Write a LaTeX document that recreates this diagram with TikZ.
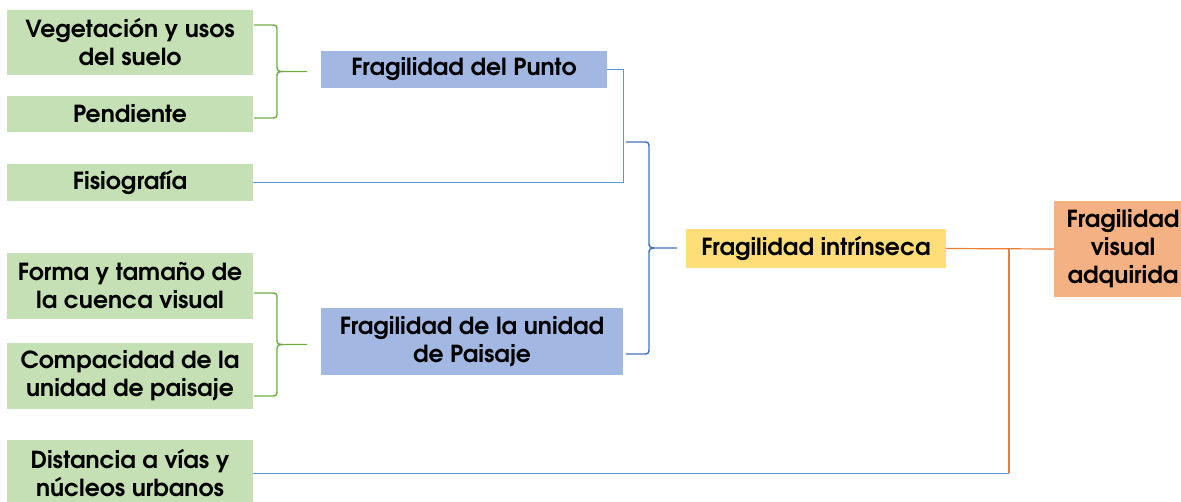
\documentclass[tikz,border=0pt]{standalone}
\usepackage{fontspec}
\setmainfont{TeX Gyre Adventor}
\usetikzlibrary{positioning, calc}
\definecolor{boxGreen}{RGB}{197,224,180}
\definecolor{boxBlue}{RGB}{162,184,226}
\definecolor{boxYellow}{RGB}{255,221,120}
\definecolor{boxOrange}{RGB}{244,177,131}
\definecolor{lineGreen}{RGB}{112,173,71}
\definecolor{lineBlue}{RGB}{68,114,196}
\definecolor{lineLight}{RGB}{90,150,225}
\definecolor{lineOrange}{RGB}{237,125,49}

\tikzset{
  box/.style={inner sep=0pt, align=center, font=\fontsize{23.5}{28}\selectfont\bfseries},
  factor/.style={box, fill=boxGreen, minimum width=246pt},
  partial/.style={box, fill=boxBlue},
  brace/.style={line width=1.4pt, line join=round},
  link/.style={lineLight, line width=1pt}
}

% #1 start x, #2 spine x, #3 tip x, #4 top y, #5 bottom y
\newcommand{\bracepath}[5]{%
  (#1,#4) -- ({#2-7},#4) .. controls (#2,#4) .. (#2,{#4+7})
  -- (#2,{(#4+#5)/2-7}) .. controls (#2,{(#4+#5)/2}) .. ({#2+9},{(#4+#5)/2}) -- (#3,{(#4+#5)/2})
  ({#2+9},{(#4+#5)/2}) .. controls (#2,{(#4+#5)/2}) .. (#2,{(#4+#5)/2+7})
  -- (#2,{#5-7}) .. controls (#2,#5) .. ({#2-7},#5) -- (#1,#5)}

\begin{document}
\begin{tikzpicture}[x=1pt, y=-1pt]
  \useasboundingbox (0,0) rectangle (1181,501);

  % factores
  \node[factor, minimum height=65pt] (veg) at (130,42.5) {Vegetación y usos\\del suelo};
  \node[factor, minimum height=36pt] (pend) at (130,114) {Pendiente};
  \node[factor, minimum height=37pt] (fisio) at (130,182.5) {Fisiografía};
  \node[factor, minimum height=66pt] (cuenca) at (130,286) {Forma y tamaño de\\la cuenca visual};
  \node[factor, minimum height=66pt] (compac) at (130,376) {Compacidad de la\\unidad de paisaje};
  \node[factor, minimum height=66pt] (dist) at (130,473) {Distancia a vías y\\núcleos urbanos};

  % fragilidades parciales
  \node[partial, minimum width=286pt, minimum height=37pt] (punto) at (464,69.5) {Fragilidad del Punto};
  \node[partial, minimum width=302pt, minimum height=67pt] (unidad) at (472,341.5) {Fragilidad de la unidad\\de Paisaje};
  \node[box, fill=boxYellow, minimum width=260pt, minimum height=39pt] (intr) at (816,248.5) {Fragilidad intrínseca};
  \node[box, fill=boxOrange, minimum width=138pt, minimum height=96pt] (adq) at (1123,249) {Fragilidad\\visual\\adquirida};

  % llaves
  \draw[brace, lineGreen] \bracepath{254}{277}{307}{25}{118};
  \draw[brace, lineGreen] \bracepath{254}{277}{307}{293}{396};
  \draw[brace, lineBlue] \bracepath{626}{649}{677}{142}{354};

  % conectores
  \draw[link] (punto.east) -- ++(16,0) |- (fisio.east);
  \coordinate (junc) at (1009,249);
  \draw[lineOrange, line width=1.2pt] (intr.east) -- (adq.west);
  \draw[lineOrange, line width=1.4pt] (junc) -- (junc |- dist.east);
  \draw[link] (dist.east) -- (junc |- dist.east);
\end{tikzpicture}
\end{document}
